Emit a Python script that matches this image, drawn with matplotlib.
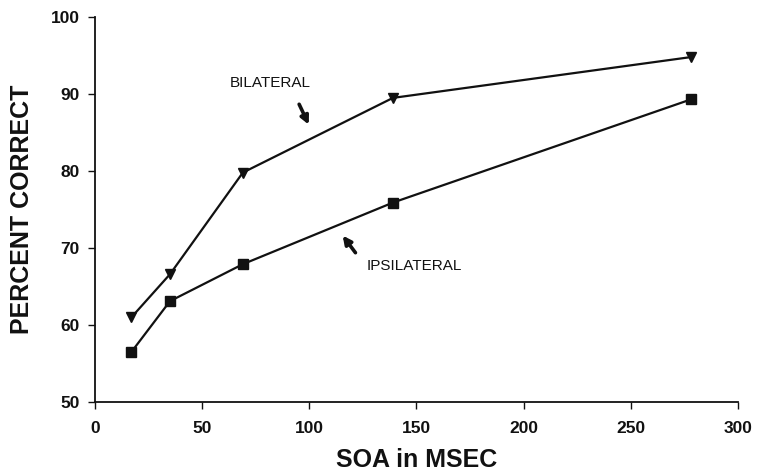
import matplotlib.pyplot as plt

# SOA values (msec) and percent correct
soa = [17, 35, 69, 139, 278]
bilateral = [61.0, 66.6, 79.8, 89.5, 94.8]
ipsilateral = [56.5, 63.1, 67.9, 75.9, 89.3]

x_ticks = [0, 50, 100, 150, 200, 250, 300]
y_ticks = [50, 60, 70, 80, 90, 100]

INK = "#111111"

plt.rcParams["font.family"] = ["Liberation Sans", "DejaVu Sans"]

fig = plt.figure(figsize=(7.58, 4.70), dpi=100)
ax = fig.add_axes([0.1253, 0.1447, 0.8483, 0.819])

ax.plot(soa, bilateral, color=INK, lw=1.6, marker="v", ms=7,
        markerfacecolor=INK, markeredgecolor=INK)
ax.plot(soa, ipsilateral, color=INK, lw=1.6, marker="s", ms=7,
        markerfacecolor=INK, markeredgecolor=INK)

ax.set_xlim(0, 300)
ax.set_ylim(50, 100)
ax.set_xticks(x_ticks)
ax.set_yticks(y_ticks)
ax.tick_params(axis="both", direction="out", length=5, width=1.0,
               labelsize=12.5, colors=INK)
ax.tick_params(axis="x", pad=9)
ax.tick_params(axis="y", pad=6)
for lab in ax.get_xticklabels() + ax.get_yticklabels():
    lab.set_fontweight("bold")

for side in ["top", "right"]:
    ax.spines[side].set_visible(False)
for side in ["left", "bottom"]:
    ax.spines[side].set_color(INK)
    ax.spines[side].set_linewidth(1.3)

ax.set_xlabel("SOA in MSEC", fontsize=18, fontweight="bold", color=INK,
              labelpad=8)
ax.set_ylabel("PERCENT CORRECT", fontsize=18, fontweight="bold", color=INK,
              labelpad=12)

ax.text(82, 91.4, "BILATERAL", ha="center", va="center", fontsize=11,
        color=INK)
ax.annotate("", xy=(100.3, 85.7), xytext=(94.7, 89.0),
            arrowprops=dict(arrowstyle="-|>", color=INK, lw=2.6,
                            mutation_scale=12))
ax.text(149, 67.7, "IPSILATERAL", ha="center", va="center", fontsize=11,
        color=INK)
ax.annotate("", xy=(114.8, 71.9), xytext=(122.3, 69.1),
            arrowprops=dict(arrowstyle="-|>", color=INK, lw=2.6,
                            mutation_scale=12))

fig.savefig("out.png", dpi=100, facecolor="white")
